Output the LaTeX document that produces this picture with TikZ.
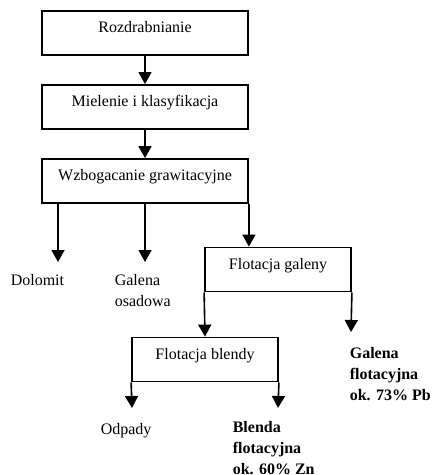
\documentclass[tikz,border=0pt]{standalone}
\usepackage{fontspec}
\setmainfont{Liberation Serif}
\usepackage{tikz}
\usetikzlibrary{positioning, arrows.meta, calc}

\tikzset{
	procbox/.style={rectangle, draw, line width=0.9pt, inner xsep=0pt, inner ysep=0pt,
		text height=11pt, text depth=11pt, font=\fontsize{8}{10.5}\selectfont},
	leaf/.style={inner sep=0pt, anchor=base west, align=left, font=\fontsize{8}{10.5}\selectfont},
	leafbold/.style={leaf, font=\fontsize{8}{10.5}\selectfont\bfseries}
}

\begin{document}
\begin{tikzpicture}[x=0.5pt, y=-0.5pt, >={Triangle[width=6.5pt,length=6pt]}, line width=0.8pt]
		\useasboundingbox (0,0) rectangle (439,475);
		
		% Process boxes
		\node[procbox, minimum width=103pt] (rozdr) at (145,33) {Rozdrabnianie};
		\node[procbox, minimum width=103pt] (miel) at (145,107) {Mielenie i klasyfikacja};
		\node[procbox, minimum width=103pt] (wzbog) at (145,181) {Wzbogacanie grawitacyjne};
		\node[procbox, minimum width=73pt] (flotgal) at (278,269.5) {Flotacja galeny};
		\node[procbox, minimum width=73pt] (flotbl) at (205,359.5) {Flotacja blendy};
		
		% Products (base = last line)
		\node[leaf] (dolomit) at (10,285) {Dolomit};
		\node[leaf] (galosad) at (114,306) {Galena\\osadowa};
		\node[leafbold] (galflot) at (349,400) {Galena\\flotacyjna\\ok. 73\% Pb};
		\node[leaf] (odpady) at (100,434) {Odpady};
		\node[leafbold] (blflot) at (232,474) {Blenda\\flotacyjna\\ok. 60\% Zn};
		
		% Arrow ends
		\coordinate (dolend) at (58,262);
		\coordinate (osadend) at (145,262);
		\coordinate (galend) at (351,332);
		\coordinate (odpend) at (132,408);
		\coordinate (blend) at (278,408);
		
		% connections
		\draw[->] (rozdr) -- (miel);
		\draw[->] (miel) -- (wzbog);
		
		\draw[->] (wzbog.south -| dolend) -- (dolend);
		\draw[->] (wzbog.south) -- (osadend);
		\draw[->] (wzbog.south east) -- (wzbog.south east |- flotgal.north);
		
		\draw[->] (flotgal.south west) -- (flotbl.north);
		\draw[->] (flotgal.south east) -- (galend);
		
		\draw[->] (flotbl.south west) -- (odpend);
		\draw[->] (flotbl.south east) -- (blend);
	\end{tikzpicture}
\end{document}
